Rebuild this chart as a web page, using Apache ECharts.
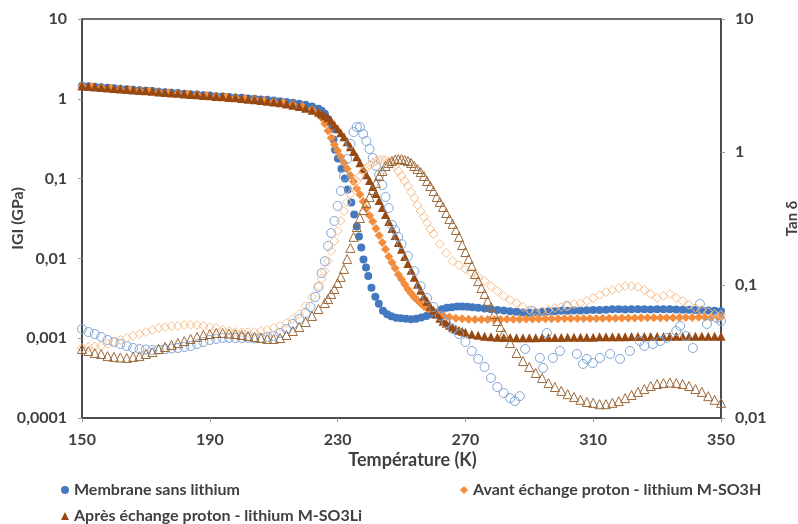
<!DOCTYPE html>
<html>
<head>
<meta charset="utf-8">
<script src="https://cdn.jsdelivr.net/npm/echarts@6/dist/echarts.min.js"></script>
<style>
  html, body { margin: 0; padding: 0; background: #fff; }
  #chart { width: 798px; height: 524px; }
</style>
</head>
<body>
<div id="chart"></div>
<script>
// temperature ticks and log-axis labels
var xTicks = [150, 190, 230, 270, 310, 350];
var leftLabels = ['0,0001', '0,001', '0,01', '0,1', '1', '10'];
var rightLabels = ['0,01', '0,1', '1', '10'];

// |G| (GPa), left axis
var membraneG = [[150,1.46],[152,1.44],[154,1.42],[156,1.4],[158,1.38],[160,1.36],[162,1.34],[164,1.32],[166,1.3],[168,1.28],[170,1.26],[172,1.25],[174,1.23],[176,1.21],[178,1.19],[180,1.18],[182,1.16],[184,1.14],[186,1.13],[188,1.11],[190,1.1],[192,1.08],[194,1.07],[196,1.05],[198,1.04],[200,1.03],[202,1.01],[204,1.0],[206,0.98],[208,0.97],[210,0.95],[212,0.93],[214,0.91],[216,0.89],[218,0.87],[220,0.84],[222,0.8],[224,0.75],[225,0.71],[226,0.65],[227,0.56],[228,0.42],[228.7,0.31],[229.2,0.23],[230.1,0.178],[231.2,0.133],[232.3,0.1],[233.2,0.073],[234.3,0.05],[235.2,0.0355],[236,0.0251],[236.7,0.0188],[237.4,0.0137],[238.1,0.0097],[238.9,0.0077],[239.6,0.006],[240.6,0.0043],[241.8,0.0033],[242.9,0.0027],[244.2,0.0022],[245.5,0.002],[246.8,0.00188],[248.3,0.0018],[249.8,0.00178],[251.4,0.00175],[253,0.00173],[254.6,0.00175],[256.2,0.00182],[257.8,0.0019],[259.4,0.002],[261,0.0021],[262.6,0.0023],[264.2,0.0024],[265.8,0.00245],[267.4,0.0025],[269,0.0025],[270.6,0.00248],[272.2,0.00244],[274,0.0024],[276,0.00235],[278,0.0023],[280,0.00226],[282,0.00222],[284,0.00218],[286,0.00214],[288,0.0021],[290,0.00208],[292,0.0021],[294,0.00213],[296,0.00216],[298,0.00218],[300,0.0022],[302,0.00221],[304,0.00222],[306,0.00223],[308,0.00224],[310,0.00225],[312,0.00226],[314,0.00228],[316,0.0023],[318,0.0023],[320,0.00229],[322,0.0023],[324,0.00231],[326,0.0023],[328,0.00229],[330,0.0023],[332,0.00231],[334,0.0023],[336,0.00229],[338,0.00228],[340,0.00227],[342,0.00225],[344,0.00224],[346,0.00222],[348,0.0022],[350,0.00218]];

var avantG = [[150,1.45],[153,1.42],[156,1.39],[159,1.36],[162,1.33],[165,1.3],[168,1.27],[171,1.25],[174,1.22],[177,1.19],[180,1.17],[183,1.14],[186,1.12],[189,1.1],[192,1.07],[195,1.05],[198,1.03],[201,1.0],[204,0.98],[207,0.95],[210,0.92],[213,0.89],[216,0.85],[219,0.8],[222,0.73],[224,0.66],[225,0.58],[226,0.487],[227,0.398],[228,0.325],[229,0.266],[230,0.224],[231,0.188],[232,0.158],[233,0.133],[234,0.109],[235,0.0917],[236,0.075],[237,0.0631],[238,0.0516],[239,0.0422],[240,0.0345],[241,0.029],[242,0.0237],[243,0.0194],[244,0.0158],[245,0.013],[246,0.0106],[247,0.0089],[248,0.0075],[249,0.0063],[250,0.00546],[251,0.00473],[252,0.0041],[253,0.00365],[254,0.00325],[255,0.00299],[256,0.00274],[257,0.00251],[258,0.00237],[259.5,0.00218],[261,0.00205],[263,0.00194],[265,0.00185],[267,0.00178],[269,0.00175],[271,0.00173],[273,0.00172],[275,0.00172],[277,0.00171],[279,0.00172],[281,0.00172],[283,0.00173],[285,0.00173],[287,0.00173],[289,0.00174],[291,0.00174],[293,0.00174],[295,0.00175],[297,0.00175],[299,0.00175],[301,0.00176],[303,0.00176],[305,0.00176],[307,0.00177],[309,0.00177],[311,0.00177],[313,0.00178],[315,0.00178],[317,0.00178],[319,0.00179],[321,0.00179],[323,0.00179],[325,0.0018],[327,0.0018],[329,0.0018],[331,0.00181],[333,0.00181],[335,0.00181],[337,0.00182],[339,0.00182],[341,0.00182],[343,0.00183],[345,0.00183],[347,0.00183],[349,0.00184],[350,0.00184]];

var apresG = [[150,1.45],[152,1.43],[154,1.41],[156,1.39],[158,1.37],[160,1.35],[162,1.33],[164,1.31],[166,1.29],[168,1.27],[170,1.26],[172,1.24],[174,1.22],[176,1.2],[178,1.18],[180,1.17],[182,1.15],[184,1.13],[186,1.12],[188,1.1],[190,1.09],[192,1.07],[194,1.06],[196,1.04],[198,1.03],[200,1.01],[202,0.99],[204,0.97],[206,0.95],[208,0.93],[210,0.91],[212,0.89],[214,0.86],[216,0.83],[218,0.8],[220,0.76],[222,0.72],[224,0.68],[225,0.649],[226,0.613],[227,0.579],[228,0.531],[229,0.473],[230,0.422],[231,0.376],[232,0.335],[233,0.29],[234,0.251],[235,0.218],[236,0.188],[237,0.158],[238,0.133],[239,0.112],[240,0.0944],[241,0.0794],[242,0.0649],[243,0.0531],[244,0.0434],[245,0.0355],[246,0.029],[247,0.0237],[248,0.0194],[249,0.0158],[250,0.013],[251,0.0106],[252,0.00866],[253,0.00708],[254,0.00579],[255,0.00473],[256,0.00398],[257,0.00335],[258,0.0029],[259,0.00251],[260,0.00224],[261,0.002],[262,0.00178],[263,0.00163],[264,0.00154],[265,0.00145],[266,0.00137],[267,0.0013],[268,0.00126],[269,0.00122],[270,0.00119],[272,0.00112],[274,0.00109],[276,0.00106],[278,0.00104],[280,0.00103],[282,0.00102],[284,0.00102],[286,0.00101],[288,0.00101],[290,0.00101],[292,0.00101],[294,0.00102],[296,0.00102],[298,0.00102],[300,0.00102],[302,0.00103],[304,0.00103],[306,0.00103],[308,0.00103],[310,0.00103],[312,0.00104],[314,0.00104],[316,0.00104],[318,0.00104],[320,0.00104],[322,0.00105],[324,0.00105],[326,0.00105],[328,0.00105],[330,0.00105],[332,0.00105],[334,0.00106],[336,0.00106],[338,0.00106],[340,0.00106],[342,0.00106],[344,0.00106],[346,0.00106],[348,0.00106],[350,0.00106]];

// tan delta, right axis
var membraneTan = [[150,0.0467],[152,0.0443],[154,0.0428],[156,0.0407],[158,0.0386],[160,0.0373],[162,0.036],[164,0.0348],[166,0.0336],[168,0.033],[170,0.0327],[172,0.0325],[174,0.0327],[176,0.033],[178,0.0333],[180,0.0336],[182,0.0342],[184,0.0348],[186,0.036],[188,0.0373],[190,0.0386],[192,0.0393],[194,0.04],[196,0.04],[198,0.04],[200,0.04],[202,0.04],[204,0.0397],[206,0.04],[208,0.0407],[210,0.0414],[212,0.0436],[214,0.0467],[216,0.0509],[218,0.0555],[220,0.0616],[221.5,0.0684],[223,0.0813],[224,0.0966],[225,0.123],[226,0.151],[227,0.197],[228,0.246],[229,0.303],[230,0.393],[231,0.509],[232,0.66],[233,0.886],[234,1.149],[235,1.413],[236,1.54],[237,1.54],[238,1.366],[239,1.21],[240,1.053],[241,0.901],[242,0.785],[243,0.671],[244,0.565],[245,0.459],[246,0.379],[247,0.283],[248,0.259],[249,0.23],[250,0.203],[252,0.165],[254,0.127],[256,0.098],[258,0.0798],[260,0.0684],[262,0.0585],[264,0.0518],[266,0.0467],[268,0.0428],[270,0.0373],[272,0.0319],[274,0.0278],[276,0.0242],[278,0.02],[280,0.0171],[282,0.0154],[284,0.0141],[285.5,0.0134],[287,0.0146],[288.7,0.033],[290.8,0.0638],[293.3,0.0283],[294.3,0.0238],[295.5,0.0436],[297.4,0.0283],[299.6,0.0319],[301.8,0.0695],[304.9,0.0303],[306.8,0.0255],[308,0.0278],[309.9,0.0259],[312.1,0.0283],[315.3,0.0303],[318.4,0.0278],[321.5,0.0319],[324.6,0.0379],[326,0.0348],[328.7,0.036],[331,0.0379],[333.1,0.04],[336,0.0451],[337.2,0.0492],[339,0.0414],[341.2,0.0336],[343.4,0.072],[345.6,0.0509],[348.7,0.0565],[350,0.0536]];

var avantTan = [[150,0.0336],[152,0.0342],[154,0.0345],[156,0.0348],[158,0.036],[160,0.0373],[162,0.0386],[164,0.04],[166,0.0414],[168,0.0428],[170,0.0443],[172,0.0459],[174,0.0475],[176,0.0483],[178,0.0492],[180,0.0492],[182,0.05],[184,0.05],[186,0.05],[188,0.0492],[190,0.0483],[192,0.0475],[194,0.0459],[196,0.0451],[198,0.0443],[200,0.044],[202,0.044],[204,0.0443],[206,0.0451],[208,0.0459],[210,0.0475],[212,0.0492],[214,0.0518],[216,0.0555],[218,0.0605],[220,0.0695],[222,0.0813],[224,0.098],[225,0.111],[226,0.127],[227,0.151],[228,0.18],[229,0.214],[230,0.255],[231,0.303],[232,0.36],[233,0.421],[234,0.483],[235,0.545],[236,0.605],[237,0.66],[238,0.72],[239,0.758],[240,0.798],[241,0.827],[242,0.856],[243,0.87],[244,0.87],[245,0.87],[246,0.856],[247,0.827],[248,0.785],[249,0.72],[250,0.66],[251,0.605],[252,0.555],[253,0.5],[254,0.451],[255,0.4],[256,0.36],[257,0.325],[258,0.292],[259,0.264],[260,0.242],[262,0.203],[264,0.174],[266,0.151],[268,0.141],[270,0.132],[272,0.123],[274,0.115],[276,0.107],[278,0.098],[280,0.0901],[282,0.0827],[284,0.0771],[286,0.0732],[288,0.0684],[290,0.0649],[292,0.0627],[294,0.0638],[296,0.0649],[298,0.0671],[300,0.0684],[302,0.0695],[304,0.072],[306,0.0732],[308,0.0759],[310,0.0798],[312,0.0841],[314,0.0886],[316,0.0917],[318,0.0949],[320,0.098],[322,0.098],[324,0.0966],[326,0.0917],[328,0.0856],[330,0.0798],[332,0.0827],[334,0.0856],[336,0.0798],[338,0.0759],[340,0.0708],[342,0.0671],[344,0.0649],[346,0.0627],[348,0.0605],[350,0.0595]];

var apresTan = [[150,0.033],[152,0.0319],[154,0.0308],[156,0.0303],[158,0.0292],[160,0.0288],[162,0.0285],[164,0.0283],[166,0.0288],[168,0.0292],[170,0.0303],[172,0.0313],[174,0.033],[176,0.0342],[178,0.0354],[180,0.0366],[182,0.0379],[184,0.0393],[186,0.0407],[188,0.0421],[190,0.0428],[192,0.0436],[194,0.0436],[196,0.0432],[198,0.0428],[200,0.0421],[202,0.0414],[204,0.0407],[206,0.04],[208,0.0393],[210,0.0393],[212,0.04],[214,0.0421],[216,0.0451],[218,0.0483],[220,0.0527],[222,0.0585],[224,0.066],[226,0.0732],[227,0.0785],[228,0.0856],[229,0.0933],[230,0.1035],[231,0.115],[232,0.132],[233,0.157],[234,0.19],[235,0.23],[236,0.273],[237,0.319],[238,0.366],[239,0.414],[240,0.459],[241,0.518],[242,0.585],[243,0.66],[244,0.72],[245,0.785],[246,0.827],[247,0.856],[248,0.878],[249,0.886],[250,0.886],[251,0.87],[252,0.856],[253,0.827],[254,0.785],[255,0.745],[256,0.707],[257,0.66],[258,0.605],[259,0.555],[260,0.509],[261,0.459],[262,0.421],[263,0.386],[264,0.348],[265,0.313],[266,0.288],[267,0.259],[268,0.23],[269,0.2],[270,0.177],[271,0.157],[272,0.139],[273,0.121],[274,0.107],[275,0.0949],[276,0.0856],[277,0.0759],[278,0.0684],[279,0.0605],[280,0.0536],[281,0.0483],[282,0.0436],[284,0.0366],[286,0.0308],[288,0.0268],[290,0.0242],[292,0.0218],[294,0.02],[296,0.0183],[298,0.0171],[300,0.016],[302,0.0151],[304,0.0144],[306,0.0137],[308,0.0132],[310,0.013],[312,0.0127],[314,0.0127],[316,0.013],[318,0.0134],[320,0.0141],[322,0.0149],[324,0.0157],[326,0.0165],[328,0.0174],[330,0.018],[332,0.0183],[334,0.0185],[336,0.0183],[338,0.018],[340,0.0174],[342,0.0165],[344,0.0157],[346,0.0146],[348,0.0137],[350,0.013]];

var names = ['Membrane sans lithium', 'Avant échange proton - lithium M-SO3H', 'Après échange proton - lithium M-SO3Li'];

var dom = document.getElementById('chart');
var myChart = echarts.init(dom);

var textColor = '#404040';
var lineColor = '#404040';

function logLabel(labels, offset) {
    return function (v) {
        return labels[Math.round(Math.log10(v)) + offset];
    };
}

function legendItem(name, left, top) {
    return {
        data: [name],
        left: left, top: top,
        itemWidth: 8, itemHeight: 8, itemGap: 5,
        textStyle: { fontFamily: 'Lato', fontSize: 16, fontWeight: 'bold', color: textColor }
    };
}

var option = {
    animation: false,
    textStyle: { fontFamily: 'Lato' },
    grid: {
        left: 82, right: 77, top: 19, bottom: 106,
        outerBoundsMode: 'none',
        containLabel: false,
        show: true, borderColor: lineColor, borderWidth: 1.5
    },
    legend: [
        legendItem(names[0], 56, 477),
        legendItem(names[1], 455, 477),
        legendItem(names[2], 56, 503)
    ],
    xAxis: {
        type: 'value',
        min: 150, max: 350,
        name: 'Température (K)',
        nameLocation: 'middle', nameGap: 33, nameMoveOverlap: false,
        nameTextStyle: { fontSize: 18, fontWeight: 'bold', color: textColor, padding: [0, 0, 0, 22] },
        axisLine: { lineStyle: { color: lineColor, width: 1.5 } },
        axisTick: { customValues: xTicks, length: 4, lineStyle: { color: '#999' } },
        axisLabel: { customValues: xTicks, margin: 14, fontSize: 16, fontWeight: 'bold', color: textColor },
        splitLine: { show: false }
    },
    yAxis: [
        {
            type: 'log', logBase: 10,
            min: 0.0001, max: 10,
            name: 'IGI (GPa)',
            nameLocation: 'middle', nameGap: 56, nameRotate: 90, nameMoveOverlap: false,
            nameTextStyle: { fontSize: 16, fontWeight: 'bold', color: textColor },
            axisLine: { show: true, lineStyle: { color: lineColor, width: 1.5 } },
            axisTick: { show: true, length: 4, lineStyle: { color: '#999' } },
            axisLabel: { formatter: logLabel(leftLabels, 4), margin: 15, fontSize: 16, fontWeight: 'bold', color: textColor },
            splitLine: { show: false }
        },
        {
            type: 'log', logBase: 10,
            min: 0.01, max: 10,
            position: 'right',
            name: 'Tan δ',
            nameLocation: 'middle', nameGap: 64, nameRotate: 90, nameMoveOverlap: false,
            nameTextStyle: { fontSize: 15, fontWeight: 'bold', color: textColor },
            axisLine: { show: true, lineStyle: { color: lineColor, width: 1.5 } },
            axisTick: { show: true, length: 4, lineStyle: { color: '#999' } },
            axisLabel: { formatter: logLabel(rightLabels, 2), margin: 14, fontSize: 16, fontWeight: 'bold', color: textColor },
            splitLine: { show: false }
        }
    ],
    series: [
        {
            name: names[0], type: 'scatter', yAxisIndex: 0,
            symbol: 'circle', symbolSize: 8,
            itemStyle: { color: '#4579bf', opacity: 1 },
            data: membraneG
        },
        {
            name: names[1], type: 'scatter', yAxisIndex: 0,
            symbol: 'diamond', symbolSize: 9,
            itemStyle: { color: '#f58c3b', opacity: 1 },
            data: avantG
        },
        {
            name: names[2], type: 'scatter', yAxisIndex: 0,
            symbol: 'triangle', symbolSize: 9,
            itemStyle: { color: '#984912', opacity: 1 },
            data: apresG
        },
        {
            name: names[0] + ' - tan δ', type: 'scatter', yAxisIndex: 1,
            symbol: 'circle', symbolSize: 9,
            itemStyle: { color: 'rgba(255,255,255,0)', borderColor: '#7ea4d4', borderWidth: 1, opacity: 1 },
            data: membraneTan
        },
        {
            name: names[1] + ' - tan δ', type: 'scatter', yAxisIndex: 1,
            symbol: 'diamond', symbolSize: 9,
            itemStyle: { color: 'rgba(255,255,255,0)', borderColor: '#f7be8c', borderWidth: 1, opacity: 1 },
            data: avantTan
        },
        {
            name: names[2] + ' - tan δ', type: 'scatter', yAxisIndex: 1,
            symbol: 'triangle', symbolSize: 9,
            itemStyle: { color: 'rgba(255,255,255,0)', borderColor: '#9c6a3a', borderWidth: 1, opacity: 1 },
            data: apresTan
        }
    ]
};

myChart.setOption(option);
</script>
</body>
</html>
